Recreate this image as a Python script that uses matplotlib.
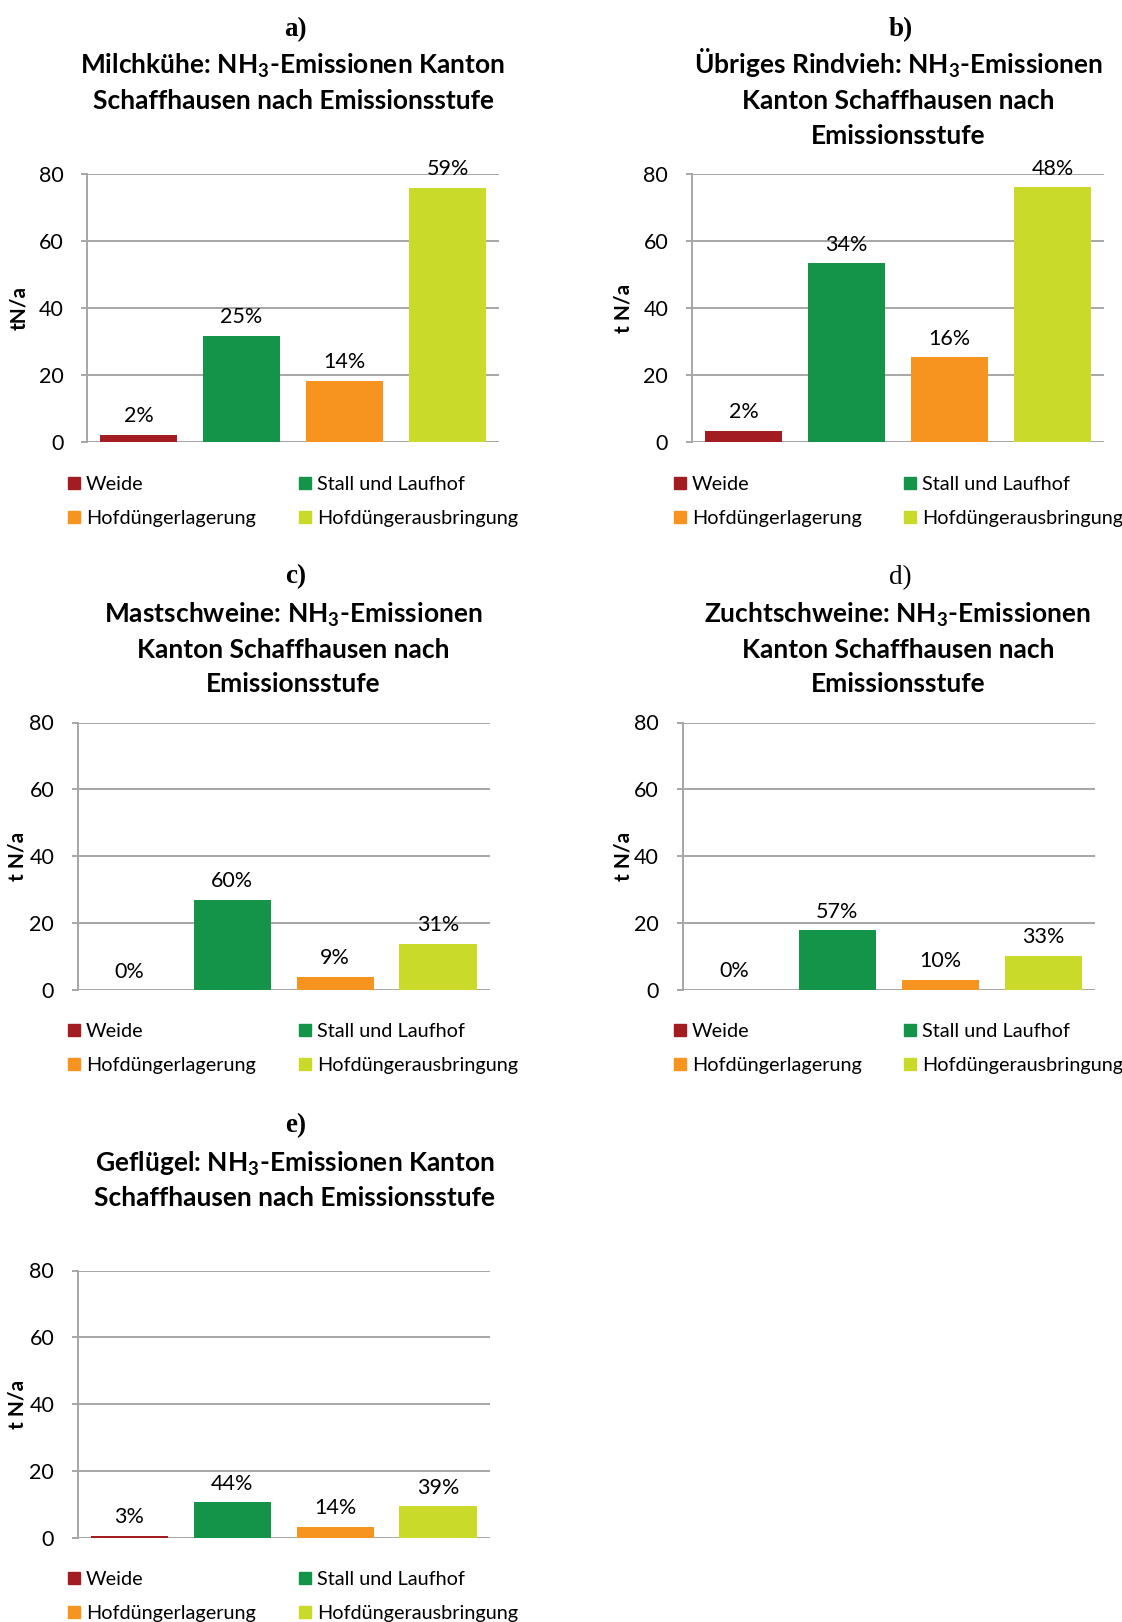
import matplotlib
matplotlib.use("Agg")
import matplotlib.pyplot as plt
from matplotlib.patches import Patch

W, H = 1122, 1622

categories = ["Weide", "Stall und Laufhof", "Hofdüngerlagerung", "Hofdüngerausbringung"]
colors = ["#a31c22", "#139448", "#f7941f", "#c9da2a"]

# t N/a
milchkuehe = [2.1, 31.8, 18.3, 76.0]
rindvieh = [3.3, 53.4, 25.3, 76.2]
mastschweine = [0.0, 27.0, 3.9, 13.8]
zuchtschweine = [0.1, 17.9, 3.1, 10.3]
gefluegel = [0.7, 10.7, 3.4, 9.5]

pct_milchkuehe = ["2%", "25%", "14%", "59%"]
pct_rindvieh = ["2%", "34%", "16%", "48%"]
pct_mastschweine = ["0%", "60%", "9%", "31%"]
pct_zuchtschweine = ["0%", "57%", "10%", "33%"]
pct_gefluegel = ["3%", "44%", "14%", "39%"]

yticks = [0, 20, 40, 60, 80]

NH3 = r"NH$_\mathregular{3}$"
# pixel layout: plot box (l, t, r, b), y-label right edge, tag pos, title centre/baseline,
# legend (col1 x, col2 x, row1 centre y)
panels = [
    dict(tag="a)", tag_bold=True, vals=milchkuehe, pct=pct_milchkuehe, ylabel="tN/a",
         title=[f"Milchkühe: {NH3}-Emissionen Kanton", "Schaffhausen nach Emissionsstufe"],
         box=(87, 174.5, 499, 442), ylab_x=29, tag_xy=(295.5, 36), title_x=293, title_y=74,
         leg=(68, 299, 484)),
    dict(tag="b)", tag_bold=True, vals=rindvieh, pct=pct_rindvieh, ylabel="t N/a",
         title=[f"Übriges Rindvieh: {NH3}-Emissionen", "Kanton Schaffhausen nach", "Emissionsstufe"],
         box=(692, 174.5, 1104, 442), ylab_x=634, tag_xy=(901, 36), title_x=898, title_y=74,
         leg=(674, 904, 484)),
    dict(tag="c)", tag_bold=True, vals=mastschweine, pct=pct_mastschweine, ylabel="t N/a",
         title=[f"Mastschweine: {NH3}-Emissionen", "Kanton Schaffhausen nach", "Emissionsstufe"],
         box=(78, 722.5, 489.5, 990), ylab_x=27, tag_xy=(295.5, 583), title_x=293, title_y=622.5,
         leg=(68, 299, 1031)),
    dict(tag="d)", tag_bold=False, vals=zuchtschweine, pct=pct_zuchtschweine, ylabel="t N/a",
         title=[f"Zuchtschweine: {NH3}-Emissionen", "Kanton Schaffhausen nach", "Emissionsstufe"],
         box=(682.5, 722.5, 1095, 990), ylab_x=634, tag_xy=(900, 584), title_x=898, title_y=622.5,
         leg=(674, 904, 1031)),
    dict(tag="e)", tag_bold=True, vals=gefluegel, pct=pct_gefluegel, ylabel="t N/a",
         title=[f"Geflügel: {NH3}-Emissionen Kanton", "Schaffhausen nach Emissionsstufe"],
         box=(78, 1270.5, 489.5, 1538), ylab_x=27, tag_xy=(295.5, 1132), title_x=295, title_y=1171.5,
         leg=(68, 299, 1579)),
]

plt.rcParams["font.family"] = ["Lato", "DejaVu Sans"]
GRID = "#a6a6a6"
LINE_STEP = 35
ROW_STEP = 35

fig = plt.figure(figsize=(W / 100, H / 100), dpi=100)

for p in panels:
    l, t, r, b = p["box"]
    ax = fig.add_axes([l / W, 1 - b / H, (r - l) / W, (b - t) / H])
    x = range(len(categories))
    ax.bar(x, p["vals"], width=0.75, color=colors, zorder=2)
    for xi, v, s in zip(x, p["vals"], p["pct"]):
        ax.annotate(s, (xi, v), xytext=(0, 9), textcoords="offset points",
                    ha="center", va="baseline", fontsize=15.5)
    ax.set_xlim(-0.5, 3.5)
    ax.set_ylim(0, 80)
    ax.set_yticks(yticks)
    ax.set_xticks([])
    ax.tick_params(axis="y", length=4.6, width=1.4, color=GRID, pad=12.5, labelsize=15.5)
    ax.grid(axis="y", color=GRID, lw=1.4)
    ax.set_axisbelow(True)
    for side in ["top", "right", "bottom"]:
        ax.spines[side].set_visible(False)
    ax.spines["left"].set_color(GRID)
    ax.spines["left"].set_linewidth(1.4)
    ax.set_ylabel(p["ylabel"], fontsize=15, fontweight="bold")
    ax.yaxis.set_label_coords((p["ylab_x"] - l) / (r - l), 0.5)

    # panel tag and title
    tx, ty = p["tag_xy"]
    fig.text(tx / W, 1 - ty / H, p["tag"], family="Liberation Serif",
             fontweight="bold" if p["tag_bold"] else "normal",
             fontsize=19.5, ha="center", va="baseline")
    for i, line in enumerate(p["title"]):
        fig.text(p["title_x"] / W, 1 - (p["title_y"] + i * LINE_STEP) / H, line,
                 fontsize=19, fontweight="bold", ha="center", va="baseline")

    # legend: two columns, each its own legend so the column x is exact
    c1, c2, ly = p["leg"]
    for cx, idx in [(c1, [0, 2]), (c2, [1, 3])]:
        fig.legend([Patch(color=colors[i]) for i in idx], [categories[i] for i in idx],
                   loc="center left", bbox_to_anchor=(cx / W, 1 - (ly + ROW_STEP / 2) / H),
                   frameon=False, fontsize=14.3, handlelength=0.58, handleheight=0.6,
                   handletextpad=0.33, labelspacing=0.86, borderpad=0, borderaxespad=0)

fig.savefig("out.png", dpi=100)
